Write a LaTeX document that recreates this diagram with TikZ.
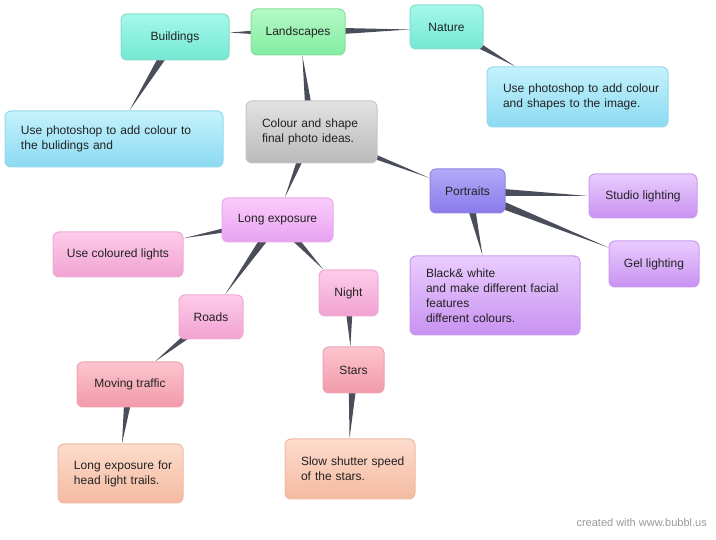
\documentclass[tikz,border=0pt]{standalone}
\usepackage{fontspec}
\setmainfont{Liberation Sans}
\usetikzlibrary{calc,backgrounds}

\definecolor{textdark}{HTML}{222222}
\definecolor{linkgray}{HTML}{4A4E5A}
\definecolor{mintT}{HTML}{A4F8EA}\definecolor{mintB}{HTML}{74E8D2}\definecolor{mintD}{HTML}{84DEC8}
\definecolor{greenT}{HTML}{B4F9C4}\definecolor{greenB}{HTML}{82ECA2}\definecolor{greenD}{HTML}{8ADEA2}
\definecolor{cyanT}{HTML}{C4F2FC}\definecolor{cyanB}{HTML}{8CDAF2}\definecolor{cyanD}{HTML}{94D8EE}
\definecolor{grayT}{HTML}{E2E2E2}\definecolor{grayB}{HTML}{BABABA}\definecolor{grayD}{HTML}{C6C6C6}
\definecolor{blueT}{HTML}{B2AAF9}\definecolor{blueB}{HTML}{8A7AEA}\definecolor{blueD}{HTML}{9284E0}
\definecolor{violetT}{HTML}{EACCFD}\definecolor{violetB}{HTML}{C892F2}\definecolor{violetD}{HTML}{C89AEE}
\definecolor{orchidT}{HTML}{FACCFA}\definecolor{orchidB}{HTML}{E8A2F2}\definecolor{orchidD}{HTML}{E6AAEE}
\definecolor{pinkT}{HTML}{FDCCE9}\definecolor{pinkB}{HTML}{F1A2D2}\definecolor{pinkD}{HTML}{EEAAD6}
\definecolor{roseT}{HTML}{FDC4CF}\definecolor{roseB}{HTML}{F19AAA}\definecolor{roseD}{HTML}{EEA2B0}
\definecolor{peachT}{HTML}{FDDCCC}\definecolor{peachB}{HTML}{F4BAA2}\definecolor{peachD}{HTML}{EEBAA4}

\tikzset{
  bubble/.style={rounded corners=6pt, line width=1pt, inner sep=0pt, align=center,
    text=textdark, font=\fontsize{12}{15}\selectfont},
  note/.style={bubble, align=left, inner xsep=4pt, execute at begin node={\leftskip=12pt}},
  mintbox/.style={top color=mintT, bottom color=mintB, draw=mintD},
  greenbox/.style={top color=greenT, bottom color=greenB, draw=greenD},
  cyanbox/.style={top color=cyanT, bottom color=cyanB, draw=cyanD},
  graybox/.style={top color=grayT, bottom color=grayB, draw=grayD},
  bluebox/.style={top color=blueT, bottom color=blueB, draw=blueD},
  violetbox/.style={top color=violetT, bottom color=violetB, draw=violetD},
  orchidbox/.style={top color=orchidT, bottom color=orchidB, draw=orchidD},
  pinkbox/.style={top color=pinkT, bottom color=pinkB, draw=pinkD},
  rosebox/.style={top color=roseT, bottom color=roseB, draw=roseD},
  peachbox/.style={top color=peachT, bottom color=peachB, draw=peachD},
  link/.style={fill=linkgray},
}
\newcommand{\branch}[2]{\fill[link] ($(#1)!5pt!90:(#2)$) -- ($(#1)!5pt!-90:(#2)$) -- (#2) -- cycle;}

\begin{document}
\begin{tikzpicture}[x=1pt,y=-1pt]
    \useasboundingbox (0,0) rectangle (716,540);

    % Centro
    \node[note,graybox,text width=123pt,minimum height=62pt] (root) at (311.5,132) {Colour and shape\\final photo ideas.};

    % Paisajes
    \node[bubble,greenbox,minimum width=94pt,minimum height=46pt] (landscapes) at (298,32) {Landscapes};
    \node[bubble,mintbox,minimum width=108pt,minimum height=46pt] (buildings) at (175,37) {Buildings};
    \node[bubble,mintbox,minimum width=73pt,minimum height=44pt] (nature) at (446.5,27) {Nature};
    \node[note,cyanbox,text width=210pt,minimum height=56pt] (buildtxt) at (114,139) {Use photoshop to add colour to\\the bulidings and};
    \node[note,cyanbox,text width=173pt,minimum height=60pt] (naturetxt) at (577.5,97) {Use photoshop to add colour\\and shapes to the image.};

    % Retratos
    \node[bubble,bluebox,minimum width=75pt,minimum height=44pt] (portraits) at (467.5,191) {Portraits};
    \node[bubble,violetbox,minimum width=108pt,minimum height=44pt] (studio) at (643,196) {Studio lighting};
    \node[bubble,violetbox,minimum width=90pt,minimum height=46pt] (gel) at (654,264) {Gel lighting};
    \node[note,violetbox,text width=162pt,minimum height=79pt] (bw) at (495,295.5) {Black\& white\\and make different facial\\features\\different colours.};

    % Larga exposicion
    \node[bubble,orchidbox,minimum width=111pt,minimum height=44pt] (longexp) at (277.5,220) {Long exposure};
    \node[bubble,pinkbox,minimum width=130pt,minimum height=45pt] (lights) at (118,254.5) {Use coloured lights};
    \node[bubble,pinkbox,minimum width=64pt,minimum height=44pt] (roads) at (211,317) {Roads};
    \node[bubble,pinkbox,minimum width=59pt,minimum height=46pt] (night) at (348.5,293) {Night};
    \node[bubble,rosebox,minimum width=61pt,minimum height=46pt] (stars) at (353.5,370) {Stars};
    \node[bubble,rosebox,minimum width=106pt,minimum height=45pt] (traffic) at (130,384.5) {Moving traffic};
    \node[note,peachbox,text width=117pt,minimum height=59pt] (trails) at (120.5,473.5) {Long exposure for\\head light trails.};
    \node[note,peachbox,text width=122pt,minimum height=60pt] (shutter) at (350,469) {Slow shutter speed\\of the stars.};

    % Ramas
    \begin{scope}[on background layer]
        \foreach \a/\b in {root/landscapes, landscapes/buildings, landscapes/nature,
            buildings/buildtxt, nature/naturetxt, root/longexp, root/portraits,
            portraits/studio, portraits/gel, portraits/bw, longexp/lights,
            longexp/roads, longexp/night, roads/traffic, traffic/trails,
            night/stars, stars/shutter}
            {\branch{\a}{\b}}
    \end{scope}

    \node[anchor=east, text=black!40, font=\fontsize{11}{13}\selectfont, inner sep=0pt] (credit) at (707,523) {created with www.bubbl.us};
\end{tikzpicture}
\end{document}
